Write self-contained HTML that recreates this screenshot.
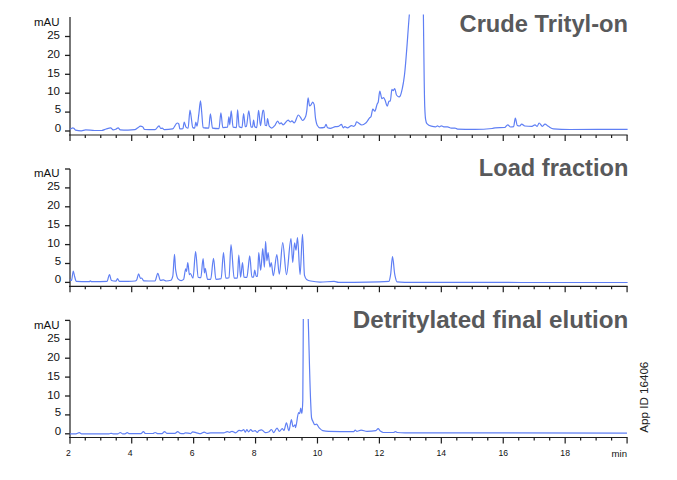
<!DOCTYPE html>
<html><head><meta charset="utf-8"><style>
html,body{margin:0;padding:0;background:#fff;width:677px;height:480px;overflow:hidden}
svg{display:block}
.yl{font-family:"Liberation Sans", sans-serif;font-size:11.5px;fill:#111}
.xl{font-family:"Liberation Sans", sans-serif;font-size:9.8px;fill:#111}
.tt{font-family:"Liberation Sans", sans-serif;font-weight:bold;fill:#58595b}
.ap{font-family:"Liberation Sans", sans-serif;font-size:10.3px;fill:#222}
</style></head><body>
<svg width="677" height="480" viewBox="0 0 677 480">
<defs>
<clipPath id="c1"><rect x="69" y="14.4" width="570" height="130"/></clipPath>
<clipPath id="c3"><rect x="69" y="319" width="570" height="130"/></clipPath>
</defs>
<line x1="70" y1="17.1" x2="70" y2="141.0" stroke="#555" stroke-width="1.6"/>
<line x1="65" y1="131.00" x2="70" y2="131.00" stroke="#1e1e1e" stroke-width="1.3"/>
<text x="61.2" y="132.30" text-anchor="end" class="yl">0</text>
<line x1="65" y1="112.10" x2="70" y2="112.10" stroke="#1e1e1e" stroke-width="1.3"/>
<text x="61.2" y="113.40" text-anchor="end" class="yl">5</text>
<line x1="65" y1="93.20" x2="70" y2="93.20" stroke="#1e1e1e" stroke-width="1.3"/>
<text x="60" y="95.40" text-anchor="end" class="yl">10</text>
<line x1="65" y1="74.30" x2="70" y2="74.30" stroke="#1e1e1e" stroke-width="1.3"/>
<text x="60" y="76.50" text-anchor="end" class="yl">15</text>
<line x1="65" y1="55.40" x2="70" y2="55.40" stroke="#1e1e1e" stroke-width="1.3"/>
<text x="60" y="57.60" text-anchor="end" class="yl">20</text>
<line x1="65" y1="36.50" x2="70" y2="36.50" stroke="#1e1e1e" stroke-width="1.3"/>
<text x="60" y="38.70" text-anchor="end" class="yl">25</text>
<text x="59.5" y="25.50" text-anchor="end" class="yl">mAU</text>
<line x1="69" y1="135.0" x2="627.6" y2="135.0" stroke="#1e1e1e" stroke-width="1.2"/>
<line x1="85.28" y1="135.0" x2="85.28" y2="138.0" stroke="#1e1e1e" stroke-width="1.2"/>
<line x1="100.76" y1="135.0" x2="100.76" y2="138.0" stroke="#1e1e1e" stroke-width="1.2"/>
<line x1="116.24" y1="135.0" x2="116.24" y2="138.0" stroke="#1e1e1e" stroke-width="1.2"/>
<line x1="131.72" y1="135.0" x2="131.72" y2="141.0" stroke="#1e1e1e" stroke-width="1.2"/>
<line x1="147.20" y1="135.0" x2="147.20" y2="138.0" stroke="#1e1e1e" stroke-width="1.2"/>
<line x1="162.68" y1="135.0" x2="162.68" y2="138.0" stroke="#1e1e1e" stroke-width="1.2"/>
<line x1="178.16" y1="135.0" x2="178.16" y2="138.0" stroke="#1e1e1e" stroke-width="1.2"/>
<line x1="193.64" y1="135.0" x2="193.64" y2="141.0" stroke="#1e1e1e" stroke-width="1.2"/>
<line x1="209.12" y1="135.0" x2="209.12" y2="138.0" stroke="#1e1e1e" stroke-width="1.2"/>
<line x1="224.60" y1="135.0" x2="224.60" y2="138.0" stroke="#1e1e1e" stroke-width="1.2"/>
<line x1="240.08" y1="135.0" x2="240.08" y2="138.0" stroke="#1e1e1e" stroke-width="1.2"/>
<line x1="255.56" y1="135.0" x2="255.56" y2="141.0" stroke="#1e1e1e" stroke-width="1.2"/>
<line x1="271.04" y1="135.0" x2="271.04" y2="138.0" stroke="#1e1e1e" stroke-width="1.2"/>
<line x1="286.52" y1="135.0" x2="286.52" y2="138.0" stroke="#1e1e1e" stroke-width="1.2"/>
<line x1="302.00" y1="135.0" x2="302.00" y2="138.0" stroke="#1e1e1e" stroke-width="1.2"/>
<line x1="317.48" y1="135.0" x2="317.48" y2="141.0" stroke="#1e1e1e" stroke-width="1.2"/>
<line x1="332.96" y1="135.0" x2="332.96" y2="138.0" stroke="#1e1e1e" stroke-width="1.2"/>
<line x1="348.44" y1="135.0" x2="348.44" y2="138.0" stroke="#1e1e1e" stroke-width="1.2"/>
<line x1="363.92" y1="135.0" x2="363.92" y2="138.0" stroke="#1e1e1e" stroke-width="1.2"/>
<line x1="379.40" y1="135.0" x2="379.40" y2="141.0" stroke="#1e1e1e" stroke-width="1.2"/>
<line x1="394.88" y1="135.0" x2="394.88" y2="138.0" stroke="#1e1e1e" stroke-width="1.2"/>
<line x1="410.36" y1="135.0" x2="410.36" y2="138.0" stroke="#1e1e1e" stroke-width="1.2"/>
<line x1="425.84" y1="135.0" x2="425.84" y2="138.0" stroke="#1e1e1e" stroke-width="1.2"/>
<line x1="441.32" y1="135.0" x2="441.32" y2="141.0" stroke="#1e1e1e" stroke-width="1.2"/>
<line x1="456.80" y1="135.0" x2="456.80" y2="138.0" stroke="#1e1e1e" stroke-width="1.2"/>
<line x1="472.28" y1="135.0" x2="472.28" y2="138.0" stroke="#1e1e1e" stroke-width="1.2"/>
<line x1="487.76" y1="135.0" x2="487.76" y2="138.0" stroke="#1e1e1e" stroke-width="1.2"/>
<line x1="503.24" y1="135.0" x2="503.24" y2="141.0" stroke="#1e1e1e" stroke-width="1.2"/>
<line x1="518.72" y1="135.0" x2="518.72" y2="138.0" stroke="#1e1e1e" stroke-width="1.2"/>
<line x1="534.20" y1="135.0" x2="534.20" y2="138.0" stroke="#1e1e1e" stroke-width="1.2"/>
<line x1="549.68" y1="135.0" x2="549.68" y2="138.0" stroke="#1e1e1e" stroke-width="1.2"/>
<line x1="565.16" y1="135.0" x2="565.16" y2="141.0" stroke="#1e1e1e" stroke-width="1.2"/>
<line x1="580.64" y1="135.0" x2="580.64" y2="138.0" stroke="#1e1e1e" stroke-width="1.2"/>
<line x1="596.12" y1="135.0" x2="596.12" y2="138.0" stroke="#1e1e1e" stroke-width="1.2"/>
<line x1="611.60" y1="135.0" x2="611.60" y2="138.0" stroke="#1e1e1e" stroke-width="1.2"/>
<line x1="627.08" y1="135.0" x2="627.08" y2="141.0" stroke="#1e1e1e" stroke-width="1.2"/>
<line x1="70" y1="168.9" x2="70" y2="292.2" stroke="#555" stroke-width="1.6"/>
<line x1="65" y1="282.40" x2="70" y2="282.40" stroke="#1e1e1e" stroke-width="1.3"/>
<text x="61.2" y="283.40" text-anchor="end" class="yl">0</text>
<line x1="65" y1="263.50" x2="70" y2="263.50" stroke="#1e1e1e" stroke-width="1.3"/>
<text x="61.2" y="264.50" text-anchor="end" class="yl">5</text>
<line x1="65" y1="244.60" x2="70" y2="244.60" stroke="#1e1e1e" stroke-width="1.3"/>
<text x="60" y="246.90" text-anchor="end" class="yl">10</text>
<line x1="65" y1="225.70" x2="70" y2="225.70" stroke="#1e1e1e" stroke-width="1.3"/>
<text x="60" y="228.00" text-anchor="end" class="yl">15</text>
<line x1="65" y1="206.80" x2="70" y2="206.80" stroke="#1e1e1e" stroke-width="1.3"/>
<text x="60" y="209.10" text-anchor="end" class="yl">20</text>
<line x1="65" y1="187.90" x2="70" y2="187.90" stroke="#1e1e1e" stroke-width="1.3"/>
<text x="60" y="190.20" text-anchor="end" class="yl">25</text>
<line x1="65" y1="169.00" x2="70" y2="169.00" stroke="#1e1e1e" stroke-width="1.3"/>
<text x="59.5" y="177.00" text-anchor="end" class="yl">mAU</text>
<line x1="69" y1="286.3" x2="627.6" y2="286.3" stroke="#1e1e1e" stroke-width="1.2"/>
<line x1="85.28" y1="286.3" x2="85.28" y2="289.3" stroke="#1e1e1e" stroke-width="1.2"/>
<line x1="100.76" y1="286.3" x2="100.76" y2="289.3" stroke="#1e1e1e" stroke-width="1.2"/>
<line x1="116.24" y1="286.3" x2="116.24" y2="289.3" stroke="#1e1e1e" stroke-width="1.2"/>
<line x1="131.72" y1="286.3" x2="131.72" y2="292.3" stroke="#1e1e1e" stroke-width="1.2"/>
<line x1="147.20" y1="286.3" x2="147.20" y2="289.3" stroke="#1e1e1e" stroke-width="1.2"/>
<line x1="162.68" y1="286.3" x2="162.68" y2="289.3" stroke="#1e1e1e" stroke-width="1.2"/>
<line x1="178.16" y1="286.3" x2="178.16" y2="289.3" stroke="#1e1e1e" stroke-width="1.2"/>
<line x1="193.64" y1="286.3" x2="193.64" y2="292.3" stroke="#1e1e1e" stroke-width="1.2"/>
<line x1="209.12" y1="286.3" x2="209.12" y2="289.3" stroke="#1e1e1e" stroke-width="1.2"/>
<line x1="224.60" y1="286.3" x2="224.60" y2="289.3" stroke="#1e1e1e" stroke-width="1.2"/>
<line x1="240.08" y1="286.3" x2="240.08" y2="289.3" stroke="#1e1e1e" stroke-width="1.2"/>
<line x1="255.56" y1="286.3" x2="255.56" y2="292.3" stroke="#1e1e1e" stroke-width="1.2"/>
<line x1="271.04" y1="286.3" x2="271.04" y2="289.3" stroke="#1e1e1e" stroke-width="1.2"/>
<line x1="286.52" y1="286.3" x2="286.52" y2="289.3" stroke="#1e1e1e" stroke-width="1.2"/>
<line x1="302.00" y1="286.3" x2="302.00" y2="289.3" stroke="#1e1e1e" stroke-width="1.2"/>
<line x1="317.48" y1="286.3" x2="317.48" y2="292.3" stroke="#1e1e1e" stroke-width="1.2"/>
<line x1="332.96" y1="286.3" x2="332.96" y2="289.3" stroke="#1e1e1e" stroke-width="1.2"/>
<line x1="348.44" y1="286.3" x2="348.44" y2="289.3" stroke="#1e1e1e" stroke-width="1.2"/>
<line x1="363.92" y1="286.3" x2="363.92" y2="289.3" stroke="#1e1e1e" stroke-width="1.2"/>
<line x1="379.40" y1="286.3" x2="379.40" y2="292.3" stroke="#1e1e1e" stroke-width="1.2"/>
<line x1="394.88" y1="286.3" x2="394.88" y2="289.3" stroke="#1e1e1e" stroke-width="1.2"/>
<line x1="410.36" y1="286.3" x2="410.36" y2="289.3" stroke="#1e1e1e" stroke-width="1.2"/>
<line x1="425.84" y1="286.3" x2="425.84" y2="289.3" stroke="#1e1e1e" stroke-width="1.2"/>
<line x1="441.32" y1="286.3" x2="441.32" y2="292.3" stroke="#1e1e1e" stroke-width="1.2"/>
<line x1="456.80" y1="286.3" x2="456.80" y2="289.3" stroke="#1e1e1e" stroke-width="1.2"/>
<line x1="472.28" y1="286.3" x2="472.28" y2="289.3" stroke="#1e1e1e" stroke-width="1.2"/>
<line x1="487.76" y1="286.3" x2="487.76" y2="289.3" stroke="#1e1e1e" stroke-width="1.2"/>
<line x1="503.24" y1="286.3" x2="503.24" y2="292.3" stroke="#1e1e1e" stroke-width="1.2"/>
<line x1="518.72" y1="286.3" x2="518.72" y2="289.3" stroke="#1e1e1e" stroke-width="1.2"/>
<line x1="534.20" y1="286.3" x2="534.20" y2="289.3" stroke="#1e1e1e" stroke-width="1.2"/>
<line x1="549.68" y1="286.3" x2="549.68" y2="289.3" stroke="#1e1e1e" stroke-width="1.2"/>
<line x1="565.16" y1="286.3" x2="565.16" y2="292.3" stroke="#1e1e1e" stroke-width="1.2"/>
<line x1="580.64" y1="286.3" x2="580.64" y2="289.3" stroke="#1e1e1e" stroke-width="1.2"/>
<line x1="596.12" y1="286.3" x2="596.12" y2="289.3" stroke="#1e1e1e" stroke-width="1.2"/>
<line x1="611.60" y1="286.3" x2="611.60" y2="289.3" stroke="#1e1e1e" stroke-width="1.2"/>
<line x1="627.08" y1="286.3" x2="627.08" y2="292.3" stroke="#1e1e1e" stroke-width="1.2"/>
<line x1="70" y1="320.4" x2="70" y2="443.7" stroke="#555" stroke-width="1.6"/>
<line x1="65" y1="433.80" x2="70" y2="433.80" stroke="#1e1e1e" stroke-width="1.3"/>
<text x="61.2" y="434.70" text-anchor="end" class="yl">0</text>
<line x1="65" y1="414.90" x2="70" y2="414.90" stroke="#1e1e1e" stroke-width="1.3"/>
<text x="61.2" y="415.80" text-anchor="end" class="yl">5</text>
<line x1="65" y1="396.00" x2="70" y2="396.00" stroke="#1e1e1e" stroke-width="1.3"/>
<text x="60" y="398.90" text-anchor="end" class="yl">10</text>
<line x1="65" y1="377.10" x2="70" y2="377.10" stroke="#1e1e1e" stroke-width="1.3"/>
<text x="60" y="380.00" text-anchor="end" class="yl">15</text>
<line x1="65" y1="358.20" x2="70" y2="358.20" stroke="#1e1e1e" stroke-width="1.3"/>
<text x="60" y="361.10" text-anchor="end" class="yl">20</text>
<line x1="65" y1="339.30" x2="70" y2="339.30" stroke="#1e1e1e" stroke-width="1.3"/>
<text x="60" y="342.20" text-anchor="end" class="yl">25</text>
<line x1="65" y1="320.40" x2="70" y2="320.40" stroke="#1e1e1e" stroke-width="1.3"/>
<text x="59.5" y="329.00" text-anchor="end" class="yl">mAU</text>
<line x1="69" y1="437.5" x2="627.6" y2="437.5" stroke="#1e1e1e" stroke-width="1.2"/>
<line x1="85.28" y1="437.5" x2="85.28" y2="440.5" stroke="#1e1e1e" stroke-width="1.2"/>
<line x1="100.76" y1="437.5" x2="100.76" y2="440.5" stroke="#1e1e1e" stroke-width="1.2"/>
<line x1="116.24" y1="437.5" x2="116.24" y2="440.5" stroke="#1e1e1e" stroke-width="1.2"/>
<line x1="131.72" y1="437.5" x2="131.72" y2="443.5" stroke="#1e1e1e" stroke-width="1.2"/>
<line x1="147.20" y1="437.5" x2="147.20" y2="440.5" stroke="#1e1e1e" stroke-width="1.2"/>
<line x1="162.68" y1="437.5" x2="162.68" y2="440.5" stroke="#1e1e1e" stroke-width="1.2"/>
<line x1="178.16" y1="437.5" x2="178.16" y2="440.5" stroke="#1e1e1e" stroke-width="1.2"/>
<line x1="193.64" y1="437.5" x2="193.64" y2="443.5" stroke="#1e1e1e" stroke-width="1.2"/>
<line x1="209.12" y1="437.5" x2="209.12" y2="440.5" stroke="#1e1e1e" stroke-width="1.2"/>
<line x1="224.60" y1="437.5" x2="224.60" y2="440.5" stroke="#1e1e1e" stroke-width="1.2"/>
<line x1="240.08" y1="437.5" x2="240.08" y2="440.5" stroke="#1e1e1e" stroke-width="1.2"/>
<line x1="255.56" y1="437.5" x2="255.56" y2="443.5" stroke="#1e1e1e" stroke-width="1.2"/>
<line x1="271.04" y1="437.5" x2="271.04" y2="440.5" stroke="#1e1e1e" stroke-width="1.2"/>
<line x1="286.52" y1="437.5" x2="286.52" y2="440.5" stroke="#1e1e1e" stroke-width="1.2"/>
<line x1="302.00" y1="437.5" x2="302.00" y2="440.5" stroke="#1e1e1e" stroke-width="1.2"/>
<line x1="317.48" y1="437.5" x2="317.48" y2="443.5" stroke="#1e1e1e" stroke-width="1.2"/>
<line x1="332.96" y1="437.5" x2="332.96" y2="440.5" stroke="#1e1e1e" stroke-width="1.2"/>
<line x1="348.44" y1="437.5" x2="348.44" y2="440.5" stroke="#1e1e1e" stroke-width="1.2"/>
<line x1="363.92" y1="437.5" x2="363.92" y2="440.5" stroke="#1e1e1e" stroke-width="1.2"/>
<line x1="379.40" y1="437.5" x2="379.40" y2="443.5" stroke="#1e1e1e" stroke-width="1.2"/>
<line x1="394.88" y1="437.5" x2="394.88" y2="440.5" stroke="#1e1e1e" stroke-width="1.2"/>
<line x1="410.36" y1="437.5" x2="410.36" y2="440.5" stroke="#1e1e1e" stroke-width="1.2"/>
<line x1="425.84" y1="437.5" x2="425.84" y2="440.5" stroke="#1e1e1e" stroke-width="1.2"/>
<line x1="441.32" y1="437.5" x2="441.32" y2="443.5" stroke="#1e1e1e" stroke-width="1.2"/>
<line x1="456.80" y1="437.5" x2="456.80" y2="440.5" stroke="#1e1e1e" stroke-width="1.2"/>
<line x1="472.28" y1="437.5" x2="472.28" y2="440.5" stroke="#1e1e1e" stroke-width="1.2"/>
<line x1="487.76" y1="437.5" x2="487.76" y2="440.5" stroke="#1e1e1e" stroke-width="1.2"/>
<line x1="503.24" y1="437.5" x2="503.24" y2="443.5" stroke="#1e1e1e" stroke-width="1.2"/>
<line x1="518.72" y1="437.5" x2="518.72" y2="440.5" stroke="#1e1e1e" stroke-width="1.2"/>
<line x1="534.20" y1="437.5" x2="534.20" y2="440.5" stroke="#1e1e1e" stroke-width="1.2"/>
<line x1="549.68" y1="437.5" x2="549.68" y2="440.5" stroke="#1e1e1e" stroke-width="1.2"/>
<line x1="565.16" y1="437.5" x2="565.16" y2="443.5" stroke="#1e1e1e" stroke-width="1.2"/>
<line x1="580.64" y1="437.5" x2="580.64" y2="440.5" stroke="#1e1e1e" stroke-width="1.2"/>
<line x1="596.12" y1="437.5" x2="596.12" y2="440.5" stroke="#1e1e1e" stroke-width="1.2"/>
<line x1="611.60" y1="437.5" x2="611.60" y2="440.5" stroke="#1e1e1e" stroke-width="1.2"/>
<line x1="627.08" y1="437.5" x2="627.08" y2="443.5" stroke="#1e1e1e" stroke-width="1.2"/>
<path d="M69.80 129.20 C70.83 129.20 71.87 127.90 72.90 127.90 C73.20 127.90 73.50 128.12 73.80 128.30 C74.37 128.64 74.93 129.96 75.50 130.10 C77.43 130.59 79.37 130.80 81.30 130.80 C82.77 130.80 84.23 129.90 85.70 129.90 C88.67 129.90 91.63 130.50 94.60 130.50 C96.97 130.50 99.33 130.50 101.70 130.50 C103.17 130.50 104.63 129.42 106.10 129.00 C107.60 128.57 109.10 127.90 110.60 127.90 C111.47 127.90 112.33 129.90 113.20 129.90 C114.10 129.90 115.00 129.53 115.90 129.20 C116.63 128.93 117.37 127.90 118.10 127.90 C118.83 127.90 119.57 129.86 120.30 129.90 C122.87 130.06 125.43 130.10 128.00 130.10 C130.27 130.10 132.53 129.97 134.80 129.70 C135.83 129.58 136.87 128.33 137.90 127.70 C138.77 127.17 139.63 126.20 140.50 126.20 C141.20 126.20 141.90 126.47 142.60 126.80 C143.27 127.12 143.93 129.47 144.60 129.50 C148.07 129.67 151.53 129.70 155.00 129.70 C156.37 129.70 157.73 125.80 159.10 125.80 C159.63 125.80 160.17 128.50 160.70 128.50 C161.20 128.50 161.70 128.20 162.20 128.20 C162.90 128.20 163.60 129.70 164.30 129.70 C167.07 129.70 169.83 129.44 172.60 128.90 C174.13 128.60 175.67 123.00 177.20 123.00 C177.73 123.00 178.27 123.37 178.80 124.00 C179.13 124.39 179.47 128.90 179.80 128.90 C180.83 128.90 181.87 128.85 182.90 128.70 C183.33 128.64 183.77 122.00 184.20 122.00 C184.80 122.00 185.40 126.56 186.00 127.10 C186.70 127.73 187.40 128.20 188.10 128.20 C188.73 128.20 189.37 110.10 190.00 110.10 C190.30 110.10 190.60 113.23 190.90 115.00 C191.53 118.74 192.17 127.28 192.80 127.60 C193.43 127.92 194.07 128.10 194.70 128.10 C195.07 128.10 195.43 122.00 195.80 122.00 C196.20 122.00 196.60 126.20 197.00 126.20 C197.63 126.20 198.27 118.19 198.90 113.60 C199.43 109.74 199.97 100.90 200.50 100.90 C200.90 100.90 201.30 108.15 201.70 112.20 C202.17 116.93 202.63 127.50 203.10 127.60 C204.97 128.01 206.83 128.10 208.70 128.10 C209.27 128.10 209.83 113.80 210.40 113.80 C211.10 113.80 211.80 127.97 212.50 128.10 C214.67 128.50 216.83 128.60 219.00 128.60 C219.63 128.60 220.27 112.90 220.90 112.90 C221.53 112.90 222.17 127.60 222.80 127.60 C224.37 127.60 225.93 127.52 227.50 127.20 C227.97 127.10 228.43 116.80 228.90 116.80 C229.20 116.80 229.50 124.80 229.80 124.80 C230.27 124.80 230.73 110.80 231.20 110.80 C231.83 110.80 232.47 127.03 233.10 127.20 C234.20 127.49 235.30 127.60 236.40 127.60 C236.80 127.60 237.20 109.80 237.60 109.80 C238.13 109.80 238.67 126.34 239.20 126.70 C240.13 127.34 241.07 127.60 242.00 127.60 C242.53 127.60 243.07 113.60 243.60 113.60 C244.17 113.60 244.73 126.70 245.30 126.70 C245.67 126.70 246.03 126.48 246.40 126.20 C247.20 125.59 248.00 110.80 248.80 110.80 C249.57 110.80 250.33 127.20 251.10 127.20 C251.57 127.20 252.03 127.20 252.50 127.20 C252.87 127.20 253.23 120.10 253.60 120.10 C254.00 120.10 254.40 126.33 254.80 126.70 C255.43 127.29 256.07 127.60 256.70 127.60 C257.33 127.60 257.97 110.30 258.60 110.30 C259.23 110.30 259.87 125.70 260.50 125.70 C260.90 125.70 261.30 120.67 261.70 118.20 C262.13 115.53 262.57 110.30 263.00 110.30 C263.23 110.30 263.47 110.30 263.70 110.30 C264.20 110.30 264.70 125.03 265.20 125.30 C265.67 125.56 266.13 125.70 266.60 125.70 C266.90 125.70 267.20 118.70 267.50 118.70 C268.07 118.70 268.63 125.43 269.20 126.20 C270.03 127.33 270.87 128.10 271.70 128.10 C272.80 128.10 273.90 126.54 275.00 125.30 C275.87 124.32 276.73 121.10 277.60 121.10 C278.30 121.10 279.00 123.90 279.70 123.90 C280.17 123.90 280.63 122.90 281.10 122.90 C281.80 122.90 282.50 124.80 283.20 124.80 C284.83 124.80 286.47 120.10 288.10 120.10 C288.90 120.10 289.70 122.00 290.50 122.00 C290.97 122.00 291.43 120.80 291.90 120.80 C292.67 120.80 293.43 122.90 294.20 122.90 C295.60 122.90 297.00 115.00 298.40 115.00 C299.10 115.00 299.80 116.50 300.50 117.40 C301.20 118.30 301.90 120.50 302.60 120.50 C303.63 120.50 304.67 118.75 305.70 116.30 C306.07 115.43 306.43 113.06 306.80 110.60 C307.23 107.69 307.67 97.90 308.10 97.90 C308.60 97.90 309.10 105.90 309.60 105.90 C310.17 105.90 310.73 105.06 311.30 104.40 C311.77 103.86 312.23 102.10 312.70 102.10 C313.17 102.10 313.63 103.10 314.10 104.40 C314.60 105.79 315.10 116.09 315.60 118.90 C316.13 121.90 316.67 124.31 317.20 125.20 C318.07 126.65 318.93 127.80 319.80 127.80 C321.37 127.80 322.93 127.67 324.50 127.30 C325.00 127.18 325.50 124.40 326.00 124.40 C326.53 124.40 327.07 127.60 327.60 127.80 C328.47 128.13 329.33 128.30 330.20 128.30 C331.93 128.30 333.67 126.94 335.40 126.70 C336.43 126.55 337.47 126.58 338.50 126.40 C339.50 126.23 340.50 124.40 341.50 124.40 C342.07 124.40 342.63 127.80 343.20 127.80 C343.73 127.80 344.27 126.70 344.80 126.70 C345.67 126.70 346.53 127.80 347.40 127.80 C348.80 127.80 350.20 125.70 351.60 125.70 C352.27 125.70 352.93 126.40 353.60 126.40 C354.13 126.40 354.67 125.83 355.20 125.20 C355.63 124.69 356.07 121.90 356.50 121.90 C358.30 121.90 360.10 125.00 361.90 125.00 C363.37 125.00 364.83 123.72 366.30 122.50 C367.33 121.64 368.37 119.24 369.40 118.10 C369.93 117.51 370.47 117.41 371.00 116.60 C371.60 115.69 372.20 109.10 372.80 109.10 C373.47 109.10 374.13 111.20 374.80 111.20 C375.63 111.20 376.47 105.28 377.30 103.70 C377.57 103.20 377.83 103.11 378.10 102.50 C378.67 101.21 379.23 91.20 379.80 91.20 C380.50 91.20 381.20 98.70 381.90 98.70 C382.43 98.70 382.97 97.50 383.50 97.50 C384.00 97.50 384.50 98.99 385.00 100.00 C385.77 101.55 386.53 106.20 387.30 106.20 C387.87 106.20 388.43 101.20 389.00 101.20 C389.43 101.20 389.87 101.20 390.30 101.20 C390.83 101.20 391.37 89.40 391.90 89.40 C392.30 89.40 392.70 90.60 393.10 90.60 C393.67 90.60 394.23 88.70 394.80 88.70 C395.37 88.70 395.93 94.21 396.50 95.00 C397.27 96.07 398.03 96.90 398.80 96.90 C399.20 96.90 399.60 96.57 400.00 96.20 C400.83 95.43 401.67 91.28 402.50 87.50 C403.13 84.63 403.77 80.62 404.40 75.60 C406.03 62.64 407.67 35.21 409.30 15.00 C411.03 -6.45 412.77 -49.40 414.50 -49.40 C417.20 -49.40 419.90 -49.40 422.60 -49.40 C422.87 -49.40 423.13 -6.66 423.40 15.00 C423.67 36.66 423.93 64.77 424.20 80.60 C424.38 91.48 424.57 102.57 424.75 106.85 C425.03 113.47 425.32 117.73 425.60 119.35 C426.03 121.82 426.47 123.21 426.90 123.70 C428.35 125.33 429.80 125.86 431.25 126.20 C432.70 126.54 434.15 126.85 435.60 126.85 C436.23 126.85 436.87 125.85 437.50 125.85 C438.13 125.85 438.77 126.85 439.40 126.85 C440.02 126.85 440.63 125.85 441.25 125.85 C442.08 125.85 442.92 126.85 443.75 126.85 C445.00 126.85 446.25 126.85 447.50 126.85 C448.75 126.85 450.00 128.10 451.25 128.10 C452.50 128.10 453.75 128.10 455.00 128.10 C455.83 128.10 456.67 129.07 457.50 129.10 C463.33 129.31 469.17 129.35 475.00 129.35 C480.73 129.35 486.47 129.06 492.20 128.50 C493.17 128.41 494.13 127.86 495.10 127.80 C498.30 127.59 501.50 127.73 504.70 127.50 C505.70 127.43 506.70 124.80 507.70 124.80 C508.67 124.80 509.63 127.00 510.60 127.00 C511.60 127.00 512.60 126.88 513.60 126.60 C514.17 126.44 514.73 118.20 515.30 118.20 C515.97 118.20 516.63 125.21 517.30 125.50 C518.03 125.82 518.77 126.00 519.50 126.00 C520.23 126.00 520.97 124.10 521.70 124.10 C522.70 124.10 523.70 125.91 524.70 126.00 C527.13 126.21 529.57 126.30 532.00 126.30 C533.00 126.30 534.00 124.80 535.00 124.80 C535.73 124.80 536.47 126.30 537.20 126.30 C537.83 126.30 538.47 123.00 539.10 123.00 C540.20 123.00 541.30 126.30 542.40 126.30 C543.27 126.30 544.13 124.10 545.00 124.10 C546.10 124.10 547.20 125.66 548.30 126.30 C550.03 127.30 551.77 128.76 553.50 128.90 C559.00 129.34 564.50 129.50 570.00 129.50 C589.20 129.50 608.40 129.35 627.60 129.35" fill="none" stroke="#5f7ff4" stroke-width="1.2" stroke-linejoin="round" clip-path="url(#c1)"/>
<path d="M69.80 279.60 C70.37 279.60 70.93 280.50 71.50 280.50 C72.10 280.50 72.70 271.00 73.30 271.00 C73.73 271.00 74.17 275.05 74.60 276.50 C75.20 278.51 75.80 281.38 76.40 281.40 C80.70 281.58 85.00 281.60 89.30 281.60 C89.63 281.60 89.97 280.90 90.30 280.90 C90.70 280.90 91.10 281.60 91.50 281.60 C96.67 281.60 101.83 281.57 107.00 281.40 C107.83 281.37 108.67 274.50 109.50 274.50 C110.13 274.50 110.77 280.31 111.40 280.50 C112.90 280.94 114.40 281.10 115.90 281.10 C116.43 281.10 116.97 278.70 117.50 278.70 C118.13 278.70 118.77 281.40 119.40 281.40 C122.27 281.40 125.13 281.40 128.00 281.40 C130.43 281.40 132.87 281.31 135.30 281.00 C135.77 280.94 136.23 280.47 136.70 279.90 C137.33 279.12 137.97 273.80 138.60 273.80 C139.23 273.80 139.87 278.50 140.50 278.50 C140.90 278.50 141.30 278.00 141.70 278.00 C142.37 278.00 143.03 280.77 143.70 280.80 C147.47 280.97 151.23 281.00 155.00 281.00 C155.93 281.00 156.87 273.30 157.80 273.30 C158.67 273.30 159.53 280.30 160.40 280.30 C161.40 280.30 162.40 279.90 163.40 279.90 C164.33 279.90 165.27 281.00 166.20 281.00 C167.77 281.00 169.33 280.80 170.90 280.30 C171.53 280.10 172.17 278.52 172.80 276.10 C173.37 273.94 173.93 254.40 174.50 254.40 C174.87 254.40 175.23 267.21 175.60 269.60 C176.40 274.80 177.20 278.12 178.00 278.90 C179.07 279.93 180.13 280.60 181.20 280.60 C182.00 280.60 182.80 280.14 183.60 279.40 C184.30 278.75 185.00 268.80 185.70 268.80 C185.97 268.80 186.23 271.45 186.50 271.45 C186.93 271.45 187.37 262.60 187.80 262.60 C188.33 262.60 188.87 274.60 189.40 274.60 C189.73 274.60 190.07 273.50 190.40 273.50 C191.27 273.50 192.13 278.20 193.00 278.20 C193.87 278.20 194.73 251.70 195.60 251.70 C196.47 251.70 197.33 276.87 198.20 277.20 C199.07 277.53 199.93 277.70 200.80 277.70 C201.57 277.70 202.33 258.70 203.10 258.70 C203.57 258.70 204.03 273.00 204.50 273.00 C204.73 273.00 204.97 268.30 205.20 268.30 C206.00 268.30 206.80 279.30 207.60 279.30 C208.63 279.30 209.67 279.30 210.70 279.30 C211.63 279.30 212.57 258.40 213.50 258.40 C214.30 258.40 215.10 279.30 215.90 279.30 C217.63 279.30 219.37 279.15 221.10 278.70 C221.90 278.49 222.70 252.70 223.50 252.70 C224.27 252.70 225.03 278.20 225.80 278.20 C226.87 278.20 227.93 278.06 229.00 277.70 C229.67 277.48 230.33 244.60 231.00 244.60 C232.07 244.60 233.13 278.20 234.20 278.20 C235.23 278.20 236.27 278.20 237.30 278.20 C237.80 278.20 238.30 255.20 238.80 255.20 C239.40 255.20 240.00 277.10 240.60 277.10 C241.23 277.10 241.87 262.70 242.50 262.70 C243.00 262.70 243.50 276.97 244.00 277.10 C244.97 277.36 245.93 277.45 246.90 277.45 C247.30 277.45 247.70 271.94 248.10 268.95 C248.65 264.84 249.20 255.80 249.75 255.80 C250.47 255.80 251.18 277.10 251.90 277.10 C252.43 277.10 252.97 277.10 253.50 277.10 C253.92 277.10 254.33 270.20 254.75 270.20 C255.25 270.20 255.75 276.45 256.25 276.45 C256.67 276.45 257.08 276.45 257.50 276.45 C257.92 276.45 258.33 252.70 258.75 252.70 C259.37 252.70 259.98 270.20 260.60 270.20 C260.90 270.20 261.20 265.54 261.50 262.70 C261.92 258.75 262.33 248.70 262.75 248.70 C263.30 248.70 263.85 267.10 264.40 267.10 C264.80 267.10 265.20 241.45 265.60 241.45 C266.03 241.45 266.47 260.80 266.90 260.80 C267.30 260.80 267.70 252.70 268.10 252.70 C268.73 252.70 269.37 267.10 270.00 267.10 C270.42 267.10 270.83 262.70 271.25 262.70 C271.93 262.70 272.62 275.70 273.30 275.70 C274.48 275.70 275.67 254.70 276.85 254.70 C277.67 254.70 278.48 274.20 279.30 274.20 C280.43 274.20 281.57 242.70 282.70 242.70 C283.97 242.70 285.23 274.60 286.50 274.60 C288.00 274.60 289.50 238.70 291.00 238.70 C291.57 238.70 292.13 262.40 292.70 262.40 C293.33 262.40 293.97 242.80 294.60 242.80 C295.07 242.80 295.53 250.20 296.00 250.20 C296.50 250.20 297.00 237.70 297.50 237.70 C298.37 237.70 299.23 274.60 300.10 274.60 C300.90 274.60 301.70 234.40 302.50 234.40 C303.17 234.40 303.83 272.91 304.50 275.30 C305.20 277.81 305.90 278.90 306.60 279.40 C307.93 280.35 309.27 280.74 310.60 281.00 C313.73 281.61 316.87 282.10 320.00 282.10 C324.73 282.10 329.47 281.40 334.20 281.40 C335.67 281.40 337.13 282.40 338.60 282.40 C355.37 282.40 372.13 282.36 388.90 281.40 C389.47 281.37 390.03 277.83 390.60 274.70 C391.23 271.20 391.87 256.70 392.50 256.70 C393.27 256.70 394.03 271.21 394.80 274.70 C395.53 278.04 396.27 281.74 397.00 281.80 C403.00 282.33 409.00 282.39 415.00 282.40 C485.87 282.49 556.73 282.50 627.60 282.50" fill="none" stroke="#5f7ff4" stroke-width="1.2" stroke-linejoin="round"/>
<path d="M69.80 433.80 C71.87 433.80 73.93 433.80 76.00 433.80 C77.10 433.80 78.20 432.70 79.30 432.70 C80.03 432.70 80.77 433.80 81.50 433.80 C90.67 433.80 99.83 433.80 109.00 433.80 C109.77 433.80 110.53 433.30 111.30 433.30 C111.87 433.30 112.43 433.80 113.00 433.80 C114.67 433.80 116.33 433.80 118.00 433.80 C118.77 433.80 119.53 432.50 120.30 432.50 C121.03 432.50 121.77 433.80 122.50 433.80 C123.33 433.80 124.17 433.80 125.00 433.80 C125.73 433.80 126.47 432.70 127.20 432.70 C127.97 432.70 128.73 433.60 129.50 433.60 C133.33 433.60 137.17 433.60 141.00 433.60 C141.80 433.60 142.60 431.60 143.40 431.60 C144.10 431.60 144.80 433.50 145.50 433.50 C148.00 433.50 150.50 433.50 153.00 433.50 C153.70 433.50 154.40 432.50 155.10 432.50 C155.90 432.50 156.70 433.60 157.50 433.60 C159.00 433.60 160.50 433.60 162.00 433.60 C162.83 433.60 163.67 431.60 164.50 431.60 C165.27 431.60 166.03 433.30 166.80 433.30 C169.53 433.30 172.27 433.30 175.00 433.30 C175.90 433.30 176.80 431.60 177.70 431.60 C178.47 431.60 179.23 433.18 180.00 433.30 C181.17 433.49 182.33 433.60 183.50 433.60 C184.10 433.60 184.70 432.80 185.30 432.80 C187.07 432.80 188.83 433.60 190.60 433.60 C191.33 433.60 192.07 431.80 192.80 431.80 C194.03 431.80 195.27 432.52 196.50 432.80 C197.90 433.11 199.30 433.60 200.70 433.60 C201.87 433.60 203.03 432.10 204.20 432.10 C205.20 432.10 206.20 433.30 207.20 433.30 C208.37 433.30 209.53 432.80 210.70 432.80 C215.03 432.80 219.37 432.80 223.70 432.80 C224.90 432.80 226.10 431.60 227.30 431.60 C228.07 431.60 228.83 432.40 229.60 432.40 C230.40 432.40 231.20 431.30 232.00 431.30 C233.20 431.30 234.40 432.80 235.60 432.80 C236.77 432.80 237.93 430.40 239.10 430.40 C239.90 430.40 240.70 430.90 241.50 430.90 C242.27 430.90 243.03 429.70 243.80 429.70 C244.27 429.70 244.73 432.10 245.20 432.10 C245.73 432.10 246.27 429.70 246.80 429.70 C247.40 429.70 248.00 431.80 248.60 431.80 C249.30 431.80 250.00 429.70 250.70 429.70 C251.37 429.70 252.03 431.30 252.70 431.30 C253.50 431.30 254.30 430.70 255.10 430.70 C255.87 430.70 256.63 432.40 257.40 432.40 C257.83 432.40 258.27 430.94 258.70 430.70 C259.67 430.17 260.63 429.80 261.60 429.80 C262.83 429.80 264.07 432.60 265.30 432.60 C266.57 432.60 267.83 432.21 269.10 431.70 C269.87 431.39 270.63 429.50 271.40 429.50 C272.17 429.50 272.93 432.60 273.70 432.60 C274.80 432.60 275.90 428.10 277.00 428.10 C277.80 428.10 278.60 431.40 279.40 431.40 C280.33 431.40 281.27 428.60 282.20 428.60 C282.80 428.60 283.40 430.40 284.00 430.40 C284.80 430.40 285.60 422.90 286.40 422.90 C287.23 422.90 288.07 430.70 288.90 430.70 C289.73 430.70 290.57 419.70 291.40 419.70 C291.93 419.70 292.47 426.70 293.00 426.70 C293.70 426.70 294.40 424.80 295.10 424.80 C295.23 424.80 295.37 427.60 295.50 427.60 C296.53 427.60 297.57 412.60 298.60 412.60 C299.00 412.60 299.40 413.60 299.80 413.60 C300.10 413.60 300.40 408.00 300.70 408.00 C301.10 408.00 301.50 413.60 301.90 413.60 C302.20 413.60 302.50 409.13 302.80 400.30 C302.97 395.40 303.13 344.03 303.30 319.20 C303.47 294.37 303.63 250.30 303.80 250.30 C304.60 250.30 305.40 250.30 306.20 250.30 C306.90 250.30 307.60 297.64 308.30 321.50 C309.07 347.63 309.83 383.12 310.60 400.30 C310.93 407.77 311.27 416.48 311.60 418.00 C312.10 420.28 312.60 420.60 313.10 421.70 C313.60 422.80 314.10 424.70 314.60 424.70 C315.23 424.70 315.87 424.20 316.50 424.20 C317.33 424.20 318.17 426.74 319.00 427.60 C320.23 428.87 321.47 430.33 322.70 430.60 C324.67 431.03 326.63 431.25 328.60 431.30 C336.97 431.52 345.33 431.60 353.70 431.60 C354.20 431.60 354.70 430.10 355.20 430.10 C355.70 430.10 356.20 431.30 356.70 431.30 C358.17 431.30 359.63 430.10 361.10 430.10 C363.07 430.10 365.03 431.30 367.00 431.30 C369.97 431.30 372.93 431.11 375.90 430.60 C376.63 430.47 377.37 428.70 378.10 428.70 C378.83 428.70 379.57 430.49 380.30 431.00 C381.30 431.69 382.30 432.50 383.30 432.50 C386.73 432.50 390.17 432.50 393.60 432.50 C394.20 432.50 394.80 431.60 395.40 431.60 C396.03 431.60 396.67 432.45 397.30 432.50 C399.87 432.72 402.43 432.79 405.00 432.80 C479.00 433.07 553.00 433.10 627.00 433.10" fill="none" stroke="#5f7ff4" stroke-width="1.2" stroke-linejoin="round" clip-path="url(#c3)"/>
<text transform="translate(68.30 456) scale(0.88 1)" text-anchor="middle" class="xl">2</text>
<text transform="translate(130.22 456) scale(0.88 1)" text-anchor="middle" class="xl">4</text>
<text transform="translate(192.14 456) scale(0.88 1)" text-anchor="middle" class="xl">6</text>
<text transform="translate(254.06 456) scale(0.88 1)" text-anchor="middle" class="xl">8</text>
<text transform="translate(317.48 456) scale(0.88 1)" text-anchor="middle" class="xl">10</text>
<text transform="translate(379.40 456) scale(0.88 1)" text-anchor="middle" class="xl">12</text>
<text transform="translate(441.32 456) scale(0.88 1)" text-anchor="middle" class="xl">14</text>
<text transform="translate(503.24 456) scale(0.88 1)" text-anchor="middle" class="xl">16</text>
<text transform="translate(565.16 456) scale(0.88 1)" text-anchor="middle" class="xl">18</text>
<text transform="translate(627 456.5) scale(0.98 1)" text-anchor="end" class="xl">min</text>
<text x="628" y="32.2" text-anchor="end" class="tt" style="font-size:23.7px">Crude Trityl-on</text>
<text x="628.3" y="175.7" text-anchor="end" class="tt" style="font-size:23.6px">Load fraction</text>
<text x="628.3" y="327.9" text-anchor="end" class="tt" style="font-size:24.2px">Detritylated final elution</text>
<text transform="translate(647.9 432.7) rotate(-90)" class="ap" textLength="71" lengthAdjust="spacingAndGlyphs">App ID 16406</text>
</svg>
</body></html>
